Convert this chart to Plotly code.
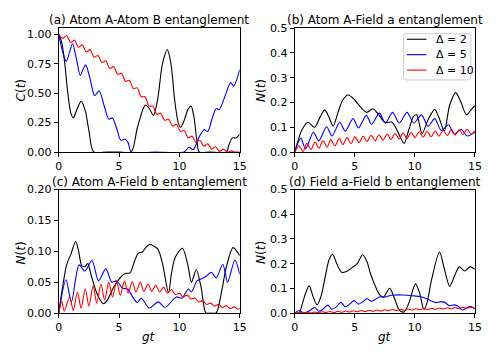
import plotly.graph_objects as go

# ---- data (gt on x) ----
# (a) Atom A - Atom B, C(t)
t_a2 = [0, 0.25, 0.5, 0.75, 1.0, 1.2, 1.5, 1.85, 2.2, 2.5, 2.9, 4.0, 5.0, 6.0, 6.5, 7.0, 7.2, 7.5, 7.85,
        8.2, 8.6, 9.0, 9.3, 9.6, 9.9, 10.1, 10.4, 10.7, 10.97, 11.2, 11.45, 11.65, 12.5, 13.9, 14.1, 14.4, 14.7, 15]
c_a2 = [1.0, 0.93, 0.75, 0.5, 0.33, 0.29, 0.36, 0.43, 0.35, 0.18, 0.0, 0.0, 0.0, 0.0, 0.2, 0.37, 0.40, 0.37, 0.31,
        0.45, 0.75, 0.87, 0.75, 0.45, 0.25, 0.21, 0.27, 0.36, 0.39, 0.3, 0.1, 0.0, 0.0, 0.0, 0.06, 0.12, 0.12, 0.15]
t_a5 = [0, 0.3, 0.62, 0.9, 1.14, 1.45, 1.78, 2.0, 2.23, 2.6, 2.95, 3.1, 3.35, 3.8, 4.15, 4.45, 4.8, 5.15, 5.5,
        5.75, 6.03, 8.0, 10.38, 10.8, 11.15, 11.6, 12.05, 12.35, 12.7, 13.05, 13.3, 13.8, 14.25, 14.5, 15]
c_a5 = [1.0, 0.86, 0.77, 0.85, 0.92, 0.8, 0.65, 0.7, 0.74, 0.62, 0.48, 0.49, 0.52, 0.38, 0.28, 0.29, 0.2, 0.1, 0.11,
        0.08, 0.0, 0.0, 0.0, 0.04, 0.02, 0.12, 0.19, 0.175, 0.28, 0.37, 0.36, 0.48, 0.59, 0.56, 0.70]
t_a10 = [0, 0.33, 0.65, 0.98, 1.3, 1.63, 1.95, 2.28, 2.6, 2.93, 3.25, 3.58, 3.9, 4.23, 4.55, 4.88, 5.2, 5.53,
         5.85, 6.18, 6.5, 6.83, 7.15, 7.48, 7.8, 8.13, 8.45, 8.78, 9.1, 9.43, 9.75, 10.08, 10.4, 10.73, 11.05,
         11.38, 11.7, 12.03, 12.35, 12.68, 13.0, 13.33, 13.65, 13.98, 14.3, 14.6, 15]
c_a10 = [1.0, 0.965, 0.99, 0.93, 0.95, 0.89, 0.91, 0.85, 0.87, 0.805, 0.82, 0.76, 0.775, 0.71, 0.725, 0.66, 0.67,
         0.60, 0.61, 0.54, 0.545, 0.47, 0.47, 0.39, 0.39, 0.32, 0.33, 0.27, 0.28, 0.22, 0.235, 0.175, 0.185, 0.12,
         0.135, 0.08, 0.10, 0.05, 0.07, 0.025, 0.045, 0.005, 0.025, 0.0, 0.01, 0.0, 0.0]

# (b) Atom A - Field a, N(t)
t_b2 = [0, 0.3, 0.6, 1.1, 1.65, 2.1, 2.5, 2.85, 3.2, 3.6, 4.0, 4.45, 5.0, 5.5, 6.0, 6.5, 7.0, 7.5, 8.1, 8.5,
        9.1, 9.5, 9.9, 10.15, 10.6, 11.1, 11.65, 12.0, 12.45, 12.9, 13.4, 13.85, 14.3, 14.7, 15]
n_b2 = [0, 0.05, 0.09, 0.12, 0.10, 0.14, 0.17, 0.14, 0.105, 0.16, 0.21, 0.23, 0.21, 0.18, 0.16, 0.175, 0.15,
        0.12, 0.12, 0.09, 0.035, 0.09, 0.145, 0.15, 0.075, 0.13, 0.172, 0.14, 0.085, 0.19, 0.24, 0.2, 0.15, 0.172, 0.187]
t_b5 = [0, 0.5, 0.9, 1.55, 2.0, 2.65, 3.1, 3.75, 4.2, 4.85, 5.3, 5.95, 6.4, 7.05, 7.55, 8.15, 8.7, 9.35, 9.9,
        10.55, 11.1, 11.65, 12.2, 12.8, 13.3, 13.85, 14.35, 15]
n_b5 = [0, 0.056, 0.013, 0.08, 0.045, 0.102, 0.065, 0.12, 0.084, 0.135, 0.097, 0.148, 0.112, 0.157, 0.117, 0.16,
        0.117, 0.16, 0.117, 0.15, 0.104, 0.135, 0.087, 0.11, 0.072, 0.092, 0.065, 0.08]
t_b10 = [0, 0.35, 0.7, 1.0, 1.35, 1.7, 2.0, 2.35, 2.7, 3.0, 3.35, 3.7, 4.0, 4.35, 4.7, 5.0, 5.35, 5.7, 6.0,
         6.35, 6.7, 7.0, 7.35, 7.7, 8.0, 8.35, 8.7, 9.0, 9.35, 9.7, 10.0, 10.35, 10.7, 11.0, 11.35, 11.7, 12.0,
         12.35, 12.7, 13.0, 13.35, 13.7, 14.0, 14.35, 14.7, 15]
n_b10 = [0, 0.025, 0.002, 0.035, 0.01, 0.04, 0.015, 0.045, 0.02, 0.05, 0.025, 0.055, 0.03, 0.058, 0.034, 0.062,
         0.038, 0.065, 0.042, 0.068, 0.045, 0.07, 0.048, 0.073, 0.05, 0.075, 0.053, 0.078, 0.055, 0.08, 0.058,
         0.082, 0.06, 0.084, 0.062, 0.086, 0.064, 0.088, 0.066, 0.09, 0.068, 0.091, 0.07, 0.092, 0.072, 0.085]

# (c) Atom A - Field b, N(t)
t_c2 = [0, 0.3, 0.65, 1.0, 1.4, 1.65, 1.9, 2.15, 2.4, 2.7, 3.2, 3.7, 4.0, 4.5, 5.0, 5.5, 5.9, 6.3, 6.6, 6.95,
        7.2, 7.55, 8.2, 8.6, 9.1, 9.35, 9.65, 10.25, 10.7, 11.0, 11.4, 11.8, 12.2, 12.6, 13.05, 13.5, 13.9, 14.45, 15]
n_c2 = [0, 0.04, 0.078, 0.095, 0.116, 0.1, 0.077, 0.075, 0.08, 0.06, 0.03, 0.015, 0.02, 0.04, 0.055, 0.064,
        0.065, 0.085, 0.097, 0.099, 0.106, 0.111, 0.104, 0.08, 0.033, 0.065, 0.09, 0.105, 0.078, 0.05, 0.07,
        0.042, 0.0, 0.0, 0.0, 0.035, 0.075, 0.106, 0.093]
t_c5 = [0, 0.6, 1.05, 1.68, 2.15, 2.75, 3.3, 3.9, 4.4, 4.8, 5.3, 5.7, 6.1, 6.5, 6.85, 7.5, 8.25, 8.8, 9.75,
        10.2, 10.75, 11.0, 11.45, 11.8, 12.25, 12.65, 13.05, 13.6, 14.0, 14.6, 15]
n_c5 = [0, 0.054, 0.018, 0.078, 0.068, 0.085, 0.052, 0.072, 0.05, 0.052, 0.04, 0.039, 0.027, 0.017, 0.024,
        0.008, 0.018, 0.009, 0.026, 0.024, 0.039, 0.034, 0.052, 0.055, 0.06, 0.066, 0.057, 0.079, 0.05, 0.086, 0.063]
t_c10 = [0, 0.25, 0.45, 0.9, 1.2, 1.55, 1.85, 2.2, 2.5, 2.85, 3.15, 3.5, 3.8, 4.15, 4.45, 4.8, 5.1, 5.45, 5.75,
         6.1, 6.4, 6.75, 7.05, 7.4, 7.7, 8.05, 8.35, 8.7, 9.0, 9.35, 9.65, 10.0, 10.3, 10.65, 10.95, 11.3, 11.6,
         11.95, 12.25, 12.6, 12.9, 13.25, 13.55, 13.9, 14.2, 14.55, 14.85, 15]
n_c10 = [0, 0.019, 0.003, 0.026, 0.004, 0.034, 0.008, 0.039, 0.011, 0.044, 0.016, 0.047, 0.021, 0.05, 0.026,
         0.051, 0.029, 0.052, 0.032, 0.051, 0.034, 0.05, 0.035, 0.047, 0.035, 0.045, 0.034, 0.042, 0.032, 0.038,
         0.03, 0.032, 0.026, 0.029, 0.023, 0.024, 0.018, 0.02, 0.014, 0.016, 0.011, 0.014, 0.009, 0.012, 0.007,
         0.01, 0.006, 0.008]

# (d) Field a - Field b, N(t)
t_d2 = [0, 0.35, 0.65, 0.9, 1.2, 1.5, 1.85, 2.2, 2.55, 2.85, 3.15, 3.5, 3.9, 4.3, 4.8, 5.2, 5.65, 6.0, 6.3,
        6.7, 7.1, 7.4, 7.9, 8.3, 8.7, 9.1, 9.5, 10.05, 10.4, 10.75, 11.0, 11.4, 12.05, 12.4, 12.9, 13.3, 13.7,
        14.15, 14.6, 15]
n_d2 = [0, 0.0, 0.04, 0.08, 0.11, 0.07, 0.033, 0.07, 0.15, 0.215, 0.238, 0.2, 0.165, 0.168, 0.185, 0.2, 0.236,
        0.21, 0.16, 0.11, 0.072, 0.065, 0.1, 0.06, 0.012, 0.004, 0.04, 0.118, 0.08, 0.015, 0.04, 0.137, 0.247,
        0.19, 0.108, 0.15, 0.187, 0.17, 0.188, 0.177]
t_d5 = [0, 0.35, 0.75, 1.2, 1.65, 2.0, 2.35, 2.75, 3.1, 3.45, 3.85, 4.2, 4.55, 4.95, 5.3, 5.65, 6.0, 6.35, 6.7,
        7.1, 7.4, 8.1, 9.0, 9.8, 10.5, 11.0, 11.4, 11.75, 12.1, 12.45, 12.85, 13.3, 13.6, 13.95, 14.3, 14.6, 15]
n_d5 = [0, 0.01, 0.0, 0.008, 0.022, 0.007, 0.015, 0.032, 0.015, 0.025, 0.043, 0.025, 0.035, 0.05, 0.036, 0.045,
        0.058, 0.048, 0.055, 0.066, 0.064, 0.072, 0.073, 0.07, 0.066, 0.058, 0.048, 0.042, 0.045, 0.044, 0.03,
        0.033, 0.027, 0.012, 0.02, 0.027, 0.017]
t_d10 = [0, 0.33, 0.65, 0.98, 1.3, 1.63, 1.95, 2.28, 2.6, 2.93, 3.25, 3.58, 3.9, 4.23, 4.55, 4.88, 5.2, 5.53,
         5.85, 6.18, 6.5, 6.83, 7.15, 7.48, 7.8, 8.13, 8.45, 8.78, 9.1, 9.43, 9.75, 10.08, 10.4, 10.73, 11.05,
         11.38, 11.7, 12.03, 12.35, 12.68, 13.0, 13.33, 13.65, 13.98, 14.3, 14.63, 14.95]
n_d10 = [0, 0.002, 0.0, 0.003, 0.0, 0.004, 0.001, 0.005, 0.002, 0.006, 0.002, 0.007, 0.003, 0.008, 0.004, 0.009,
         0.005, 0.01, 0.006, 0.011, 0.007, 0.012, 0.008, 0.013, 0.009, 0.014, 0.01, 0.015, 0.011, 0.016, 0.012,
         0.017, 0.013, 0.018, 0.014, 0.019, 0.015, 0.02, 0.016, 0.021, 0.017, 0.022, 0.018, 0.023, 0.019, 0.024, 0.02]

labels = ["Δ = 2", "Δ = 5", "Δ = 10"]
colors = ["black", "blue", "red"]

panels = [
    ("x", "y", [(t_a2, c_a2), (t_a5, c_a5), (t_a10, c_a10)]),
    ("x2", "y2", [(t_b2, n_b2), (t_b5, n_b5), (t_b10, n_b10)]),
    ("x3", "y3", [(t_c2, n_c2), (t_c5, n_c5), (t_c10, n_c10)]),
    ("x4", "y4", [(t_d2, n_d2), (t_d5, n_d5), (t_d10, n_d10)]),
]

fig = go.Figure()
for xa, ya, series in panels:
    for (tt, vv), lab, col in zip(series, labels, colors):
        fig.add_trace(go.Scatter(
            x=tt, y=vv, xaxis=xa, yaxis=ya, mode="lines", name=lab,
            line=dict(color=col, width=1.1, shape="spline", smoothing=0.8),
            showlegend=False,
        ))

font = dict(family="DejaVu Sans", size=11, color="black")
axis_style = dict(showline=True, mirror=True, linecolor="black", linewidth=1, ticks="outside",
                  ticklen=4, tickwidth=1, tickcolor="black", showgrid=False, zeroline=False,
                  tickfont=font)

W, H = 500, 360
left = [56 / W, 241 / W]
right = [297.3 / W, 481.5 / W]
top = [1 - 151.5 / H, 1 - 23 / H]
bottom = [1 - 318.5 / H, 1 - 190.5 / H]

fig.update_layout(
    width=W, height=H, margin=dict(l=0, r=0, t=0, b=0),
    paper_bgcolor="white", plot_bgcolor="white", font=font, showlegend=False,
    xaxis=dict(domain=left, anchor="y", range=[0, 15], tickvals=[0, 5, 10, 15], **axis_style),
    yaxis=dict(domain=top, anchor="x", range=[0, 1.052], tickvals=[0, 0.25, 0.5, 0.75, 1.0],
               tickformat=".2f", **axis_style),
    xaxis2=dict(domain=right, anchor="y2", range=[0, 15], tickvals=[0, 5, 10, 15], **axis_style),
    yaxis2=dict(domain=top, anchor="x2", range=[0, 0.5], tickvals=[0, 0.1, 0.2, 0.3, 0.4, 0.5],
                tickformat=".1f", **axis_style),
    xaxis3=dict(domain=left, anchor="y3", range=[0, 15], tickvals=[0, 5, 10, 15], **axis_style),
    yaxis3=dict(domain=bottom, anchor="x3", range=[0, 0.2], tickvals=[0, 0.05, 0.1, 0.15, 0.2],
                tickformat=".2f", **axis_style),
    xaxis4=dict(domain=right, anchor="y4", range=[0, 15], tickvals=[0, 5, 10, 15], **axis_style),
    yaxis4=dict(domain=bottom, anchor="x4", range=[0, 0.5], tickvals=[0, 0.1, 0.2, 0.3, 0.4, 0.5],
                tickformat=".1f", **axis_style),
)

title_font = dict(family="DejaVu Sans", size=12, color="black")
notes = [
    ("(a) Atom A-Atom B entanglement", 148.5, 15, 0),
    ("(b) Atom A-Field a entanglement", 389.5, 15, 0),
    ("(c) Atom A-Field b entanglement", 148.5, 182.5, 0),
    ("(d) Field a-Field b entanglement", 389.5, 182.5, 0),
    ("<i>C</i>(<i>t</i>)", 17, 88, -90),
    ("<i>N</i>(<i>t</i>)", 263, 88, -90),
    ("<i>N</i>(<i>t</i>)", 17, 256, -90),
    ("<i>N</i>(<i>t</i>)", 263, 256, -90),
    ("<i>gt</i>", 148.5, 343, 0),
    ("<i>gt</i>", 389.5, 343, 0),
]
for txt, px, py, ang in notes:
    fig.add_annotation(text=txt, x=px / W, y=1 - py / H, xref="paper", yref="paper",
                       xanchor="center", yanchor="middle", showarrow=False, textangle=ang,
                       font=title_font)

# matplotlib-style legend box in panel (b): rounded frame, short line samples
x0, x1, y0, y1, r = 408.7, 477.3, 28.7, 76.7, 3


def px(x):
    return x / W


def py(y):
    return 1 - y / H


box = (f"M {px(x0 + r)} {py(y0)} L {px(x1 - r)} {py(y0)} Q {px(x1)} {py(y0)} {px(x1)} {py(y0 + r)} "
       f"L {px(x1)} {py(y1 - r)} Q {px(x1)} {py(y1)} {px(x1 - r)} {py(y1)} "
       f"L {px(x0 + r)} {py(y1)} Q {px(x0)} {py(y1)} {px(x0)} {py(y1 - r)} "
       f"L {px(x0)} {py(y0 + r)} Q {px(x0)} {py(y0)} {px(x0 + r)} {py(y0)} Z")
fig.add_shape(type="path", path=box, xref="paper", yref="paper",
              fillcolor="rgba(255,255,255,0.8)", line=dict(color="#cccccc", width=1))
for i, (lab, col) in enumerate(zip(labels, colors)):
    yy = 34.5 + 16 * i
    fig.add_shape(type="line", xref="paper", yref="paper", x0=px(412), x1=px(432),
                  y0=py(yy), y1=py(yy), line=dict(color=col, width=1.1))
    fig.add_annotation(text=lab, x=px(440), y=py(yy), xref="paper", yref="paper",
                       xanchor="left", yanchor="middle", showarrow=False,
                       font=dict(family="DejaVu Sans", size=11, color="black"))

# page at the window corner, nothing spilling past 500x360
css = ("var s=document.createElement('style');"
       "s.textContent='html,body{margin:0;padding:0;overflow:hidden;width:500px;height:360px}';"
       "document.head.appendChild(s);")
fig.write_html("out.html", config={"displayModeBar": False}, post_script=css)
